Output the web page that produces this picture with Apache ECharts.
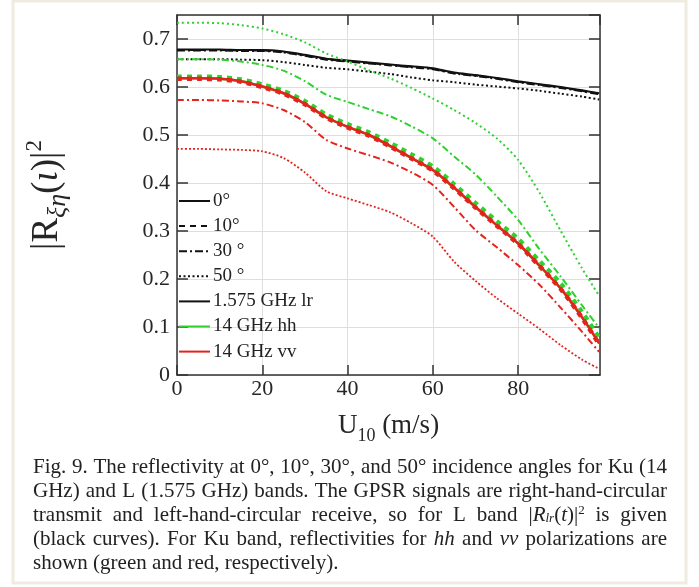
<!DOCTYPE html>
<html>
<head>
<meta charset="utf-8">
<script src="https://cdn.jsdelivr.net/npm/echarts@6/dist/echarts.min.js"></script>
<style>
  html, body { margin: 0; padding: 0; background: #ffffff; }
  #chart { width: 699px; height: 587px; }
</style>
</head>
<body>
<div id="chart"></div>
<script>
// Wind speed samples U10 (m/s)
const windSpeed = [0, 5, 10, 15, 20, 25, 30, 35, 40, 45, 50, 55, 60, 65, 70, 75, 80, 85, 90, 95, 99];

// L band (1.575 GHz), lr reflectivity at 0, 10, 30, 50 degrees
const lr0  = [0.678, 0.678, 0.678, 0.677, 0.677, 0.674, 0.667, 0.659, 0.655, 0.651, 0.647, 0.643, 0.639, 0.630, 0.625, 0.619, 0.612, 0.606, 0.600, 0.593, 0.587];
const lr10 = [0.677, 0.677, 0.677, 0.676, 0.676, 0.673, 0.666, 0.658, 0.654, 0.650, 0.646, 0.642, 0.638, 0.629, 0.624, 0.618, 0.611, 0.605, 0.599, 0.592, 0.586];
const lr30 = [0.676, 0.676, 0.676, 0.675, 0.675, 0.672, 0.665, 0.657, 0.653, 0.649, 0.645, 0.641, 0.637, 0.628, 0.623, 0.617, 0.610, 0.604, 0.598, 0.591, 0.585];
const lr50 = [0.658, 0.658, 0.658, 0.657, 0.656, 0.652, 0.646, 0.640, 0.637, 0.632, 0.627, 0.620, 0.614, 0.610, 0.605, 0.601, 0.597, 0.592, 0.586, 0.580, 0.574];

// Ku band (14 GHz), hh polarization
const hh0  = [0.618, 0.618, 0.617, 0.612, 0.601, 0.587, 0.565, 0.537, 0.517, 0.500, 0.477, 0.452, 0.427, 0.390, 0.350, 0.312, 0.274, 0.228, 0.180, 0.120, 0.066];
const hh10 = [0.622, 0.622, 0.621, 0.616, 0.606, 0.592, 0.571, 0.543, 0.523, 0.506, 0.484, 0.460, 0.435, 0.398, 0.359, 0.321, 0.284, 0.238, 0.191, 0.132, 0.078];
const hh30 = [0.658, 0.658, 0.657, 0.653, 0.646, 0.634, 0.612, 0.584, 0.569, 0.554, 0.539, 0.518, 0.493, 0.455, 0.418, 0.372, 0.323, 0.262, 0.205, 0.145, 0.098];
const hh50 = [0.734, 0.734, 0.733, 0.729, 0.722, 0.710, 0.693, 0.670, 0.653, 0.635, 0.618, 0.598, 0.576, 0.552, 0.525, 0.493, 0.448, 0.380, 0.300, 0.222, 0.165];

// Ku band (14 GHz), vv polarization
const vv0  = [0.618, 0.618, 0.617, 0.612, 0.601, 0.587, 0.565, 0.537, 0.517, 0.500, 0.477, 0.452, 0.427, 0.390, 0.350, 0.312, 0.274, 0.228, 0.180, 0.120, 0.066];
const vv10 = [0.617, 0.617, 0.616, 0.611, 0.600, 0.586, 0.564, 0.536, 0.516, 0.499, 0.476, 0.451, 0.426, 0.389, 0.349, 0.311, 0.273, 0.227, 0.179, 0.119, 0.064];
const vv30 = [0.573, 0.573, 0.572, 0.570, 0.566, 0.552, 0.527, 0.490, 0.472, 0.458, 0.443, 0.422, 0.396, 0.350, 0.302, 0.266, 0.229, 0.188, 0.140, 0.090, 0.048];
const vv50 = [0.471, 0.471, 0.470, 0.469, 0.466, 0.452, 0.422, 0.383, 0.368, 0.354, 0.339, 0.316, 0.288, 0.236, 0.196, 0.160, 0.128, 0.096, 0.062, 0.032, 0.013];

// Legend entries
const legendLabels = ['0°', '10°', '30 °', '50 °', '1.575 GHz lr', '14 GHz hh', '14 GHz vv'];
const legendColors = ['#111111', '#111111', '#111111', '#111111', '#111111', '#2fd12f', '#e3241c'];
const legendDashes = ['solid', 'dashed', 'dashdot', 'dotted', 'solid', 'solid', 'solid'];

// Caption, one entry per printed line; {it|..}, {sub|..}, {sup|..} mark italic / sub / superscript runs
const captionLines = [
  'Fig. 9. The reflectivity at 0°, 10°, 30°, and 50° incidence angles for Ku (14',
  'GHz) and L (1.575 GHz) bands. The GPSR signals are right-hand-circular',
  'transmit and left-hand-circular receive, so for L band |{it|R}{sub|lr}({it|t})|{sup|2} is given',
  '(black curves). For Ku band, reflectivities for {it|hh} and {it|vv} polarizations are',
  'shown (green and red, respectively).'
];

const SERIF = 'Liberation Serif';
const BLACK = '#111111';
const GREEN = '#2fd12f';
const RED = '#e3241c';

const dashPatterns = {
  solid: 'solid',
  dashed: [6, 5],
  dashdot: [8, 3, 2, 3],
  dotted: [2, 2.5]
};

function curve(name, values, color, dash, width, z) {
  return {
    name: name,
    type: 'line',
    data: windSpeed.map((u, i) => [u, values[i]]),
    symbol: 'none',
    smooth: 0.25,
    silent: true,
    z: z,
    lineStyle: { color: color, width: width, type: dash, cap: 'butt' }
  };
}

const series = [
  curve('lr 50', lr50, BLACK, [2, 2.5], 2, 2),
  curve('lr 30', lr30, BLACK, [8, 3, 2, 3], 2, 2),
  curve('lr 10', lr10, BLACK, [6, 5], 2, 2),
  curve('lr 0', lr0, BLACK, 'solid', 2, 2),
  curve('hh 50', hh50, GREEN, [2, 3], 2, 3),
  curve('hh 30', hh30, GREEN, [7, 3, 2, 3], 2, 3),
  curve('hh 0', hh0, GREEN, 'solid', 2.5, 3),
  curve('hh 10', hh10, GREEN, [5, 5], 4, 3),
  curve('vv 50', vv50, RED, [2, 2], 1.8, 4),
  curve('vv 30', vv30, RED, [7, 3, 2, 3], 2, 4),
  curve('vv 0', vv0, RED, 'solid', 2.5, 4),
  curve('vv 10', vv10, RED, [5, 5], 4.5, 4)
];

// ---- Legend drawn as graphic lines + text ----
const legendGraphics = [];
legendLabels.forEach((label, i) => {
  const cy = 201 + i * 25.1;
  const dash = dashPatterns[legendDashes[i]];
  legendGraphics.push({
    type: 'line',
    silent: true,
    z: 10,
    shape: { x1: 179, y1: cy, x2: 210, y2: cy },
    style: {
      stroke: legendColors[i],
      lineWidth: 2,
      lineDash: dash === 'solid' ? null : dash
    }
  });
  legendGraphics.push({
    type: 'text',
    silent: true,
    z: 10,
    x: 213,
    y: cy,
    style: {
      text: label,
      fontFamily: SERIF,
      fontSize: 19,
      fill: '#222222',
      verticalAlign: 'middle',
      align: 'left'
    }
  });
});

// ---- Justified caption ----
const CAP_SIZE = 21;
const CAP_SMALL = 13;
const CAP_LEFT = 33;
const CAP_RIGHT = 667;
const capRich = {
  it: { fontStyle: 'italic', fontFamily: SERIF, fontSize: CAP_SIZE, fill: '#222' },
  sub: { fontStyle: 'italic', fontFamily: SERIF, fontSize: CAP_SMALL, verticalAlign: 'bottom', lineHeight: CAP_SMALL, fill: '#222' },
  sup: { fontFamily: SERIF, fontSize: CAP_SMALL, verticalAlign: 'top', lineHeight: CAP_SMALL, fill: '#222' }
};
const measureCtx = document.createElement('canvas').getContext('2d');
function runWidth(text, italic, size) {
  measureCtx.font = (italic ? 'italic ' : '') + size + 'px "' + SERIF + '"';
  return measureCtx.measureText(text).width;
}
function wordWidth(word) {
  const re = /\{(\w+)\|([^}]*)\}|([^{]+)/g;
  let m, w = 0;
  while ((m = re.exec(word)) !== null) {
    if (m[3] !== undefined) {
      w += runWidth(m[3], false, CAP_SIZE);
    } else {
      const tag = m[1];
      if (tag === 'it') w += runWidth(m[2], true, CAP_SIZE);
      else if (tag === 'sub') w += runWidth(m[2], true, CAP_SMALL);
      else w += runWidth(m[2], false, CAP_SMALL);
    }
  }
  return w;
}
const captionGraphics = [];
captionLines.forEach((line, li) => {
  const cy = 467 + li * 24;
  const words = line.split(' ');
  const widths = words.map(wordWidth);
  const total = widths.reduce((a, b) => a + b, 0);
  const last = li === captionLines.length - 1;
  const gap = last ? runWidth(' ', false, CAP_SIZE) : (CAP_RIGHT - CAP_LEFT - total) / (words.length - 1);
  let x = CAP_LEFT;
  words.forEach((word, wi) => {
    captionGraphics.push({
      type: 'text',
      silent: true,
      x: x,
      y: cy,
      style: {
        text: word,
        fontFamily: SERIF,
        fontSize: CAP_SIZE,
        fill: '#222222',
        verticalAlign: 'middle',
        align: 'left',
        rich: capRich
      }
    });
    x += widths[wi] + gap;
  });
});

const chart = echarts.init(document.getElementById('chart'), null, { renderer: 'canvas' });

const axisLabelStyle = { fontFamily: SERIF, fontSize: 22, color: '#262626' };
const frameLine = { show: true, onZero: false, lineStyle: { color: '#333333', width: 1.5 } };

chart.setOption({
  animation: false,
  backgroundColor: '#ffffff',
  grid: { left: 177, top: 15, width: 423, height: 360, containLabel: false },
  xAxis: [
    {
      type: 'value',
      min: 0, max: 99.2, interval: 20,
      position: 'bottom',
      axisLine: frameLine,
      axisTick: { show: true, inside: true, length: 10, lineStyle: { color: '#333', width: 1.5 } },
      axisLabel: Object.assign({ margin: 3, showMaxLabel: false }, axisLabelStyle),
      splitLine: { show: true, lineStyle: { color: '#dedede', width: 1 } },
      name: 'U{sub|10} (m/s)',
      nameLocation: 'middle',
      nameGap: 32,
      nameTextStyle: {
        fontFamily: SERIF, fontSize: 27, color: '#262626', lineHeight: 38,
        rich: { sub: { fontFamily: SERIF, fontSize: 18, lineHeight: 18, verticalAlign: 'bottom', color: '#262626' } }
      }
    },
    {
      type: 'value',
      min: 0, max: 99.2, interval: 20,
      position: 'top',
      axisLine: frameLine,
      axisTick: { show: true, inside: true, length: 10, lineStyle: { color: '#333', width: 1.5 } },
      axisLabel: { show: false },
      splitLine: { show: false }
    }
  ],
  yAxis: [
    {
      type: 'value',
      min: 0, max: 0.75, interval: 0.1,
      position: 'left',
      axisLine: frameLine,
      axisTick: { show: true, inside: true, length: 11, lineStyle: { color: '#333', width: 1.5 } },
      axisLabel: Object.assign({ margin: 7, showMaxLabel: false }, axisLabelStyle),
      splitLine: { show: true, lineStyle: { color: '#dedede', width: 1 } },
      name: '|R{sub|ξη}({it|ι})|{sup|2}',
      nameLocation: 'middle',
      nameRotate: 90,
      nameGap: 106,
      nameTextStyle: {
        fontFamily: SERIF, fontSize: 37, color: '#262626', lineHeight: 48,
        rich: {
          sub: { fontFamily: SERIF, fontStyle: 'italic', fontSize: 26, lineHeight: 26, verticalAlign: 'bottom', color: '#262626' },
          it: { fontFamily: SERIF, fontStyle: 'italic', fontSize: 37, color: '#262626' },
          sup: { fontFamily: SERIF, fontSize: 23, lineHeight: 23, verticalAlign: 'top', color: '#262626' }
        }
      }
    },
    {
      type: 'value',
      min: 0, max: 0.75, interval: 0.1,
      position: 'right',
      axisLine: frameLine,
      axisTick: { show: true, inside: true, length: 11, lineStyle: { color: '#333', width: 1.5 } },
      axisLabel: { show: false },
      splitLine: { show: false }
    }
  ],
  series: series,
  graphic: [
    {
      type: 'rect',
      silent: true,
      shape: { x: 13, y: 1, width: 673, height: 582 },
      style: { fill: null, stroke: '#efebe0', lineWidth: 3 }
    }
  ].concat(legendGraphics, captionGraphics)
});
</script>
</body>
</html>
